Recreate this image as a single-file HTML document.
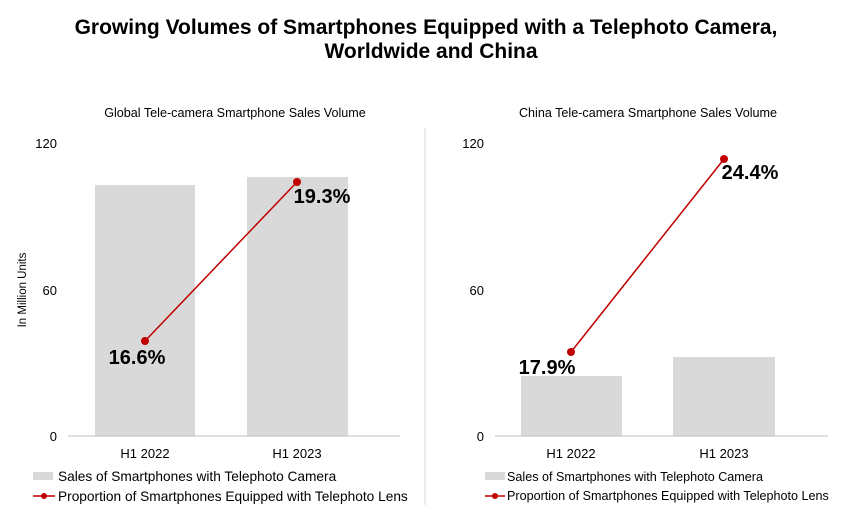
<!DOCTYPE html>
<html><head><meta charset="utf-8"><style>
body{margin:0;background:#fff;}
svg{display:block;font-family:"Liberation Sans",Arial,sans-serif;}
</style></head><body>
<svg width="863" height="521" viewBox="0 0 863 521">
<text x="426" y="34" text-anchor="middle" font-size="21" font-weight="bold" fill="#000">Growing Volumes of Smartphones Equipped with a Telephoto Camera,</text>
<text x="431" y="58" text-anchor="middle" font-size="21" font-weight="bold" fill="#000">Worldwide and China</text>
<line x1="425" y1="128" x2="425" y2="505" stroke="#d9d9d9" stroke-width="1"/>
<!-- Left chart -->
<text x="235" y="117" text-anchor="middle" font-size="12.6" fill="#000">Global Tele-camera Smartphone Sales Volume</text>
<text x="57" y="148" text-anchor="end" font-size="13">120</text>
<text x="57" y="295" text-anchor="end" font-size="13">60</text>
<text x="57" y="441" text-anchor="end" font-size="13">0</text>
<text transform="translate(26,290) rotate(-90)" text-anchor="middle" font-size="11.5">In Million Units</text>
<rect x="95" y="185" width="100" height="251" fill="#d9d9d9"/>
<rect x="247" y="177" width="101" height="259" fill="#d9d9d9"/>
<line x1="68" y1="436" x2="400" y2="436" stroke="#bfbfbf"/>
<text x="145" y="458" text-anchor="middle" font-size="13">H1 2022</text>
<text x="297" y="458" text-anchor="middle" font-size="13">H1 2023</text>
<line x1="145" y1="341" x2="297" y2="182" stroke="#c00000" stroke-width="1.5"/>
<circle cx="145" cy="341" r="4" fill="#c00000"/>
<circle cx="297" cy="182" r="4" fill="#c00000"/>
<text x="137" y="364" text-anchor="middle" font-size="20" font-weight="bold">16.6%</text>
<text x="322" y="203" text-anchor="middle" font-size="20" font-weight="bold">19.3%</text>
<rect x="33" y="472" width="20" height="8" fill="#d9d9d9"/>
<text x="58" y="481" font-size="13.7">Sales of Smartphones with Telephoto Camera</text>
<line x1="33" y1="496" x2="55" y2="496" stroke="#c00000" stroke-width="1.5"/>
<circle cx="44" cy="496" r="3" fill="#c00000"/>
<text x="58" y="501" font-size="13.7">Proportion of Smartphones Equipped with Telephoto Lens</text>
<!-- Right chart -->
<text x="648" y="117" text-anchor="middle" font-size="12.6">China Tele-camera Smartphone Sales Volume</text>
<text x="484" y="148" text-anchor="end" font-size="13">120</text>
<text x="484" y="295" text-anchor="end" font-size="13">60</text>
<text x="484" y="441" text-anchor="end" font-size="13">0</text>
<rect x="521" y="376" width="101" height="60" fill="#d9d9d9"/>
<rect x="673" y="357" width="102" height="79" fill="#d9d9d9"/>
<line x1="495" y1="436" x2="828" y2="436" stroke="#bfbfbf"/>
<text x="571" y="458" text-anchor="middle" font-size="13">H1 2022</text>
<text x="724" y="458" text-anchor="middle" font-size="13">H1 2023</text>
<line x1="571" y1="352" x2="724" y2="159" stroke="#c00000" stroke-width="1.5"/>
<circle cx="571" cy="352" r="4" fill="#c00000"/>
<circle cx="724" cy="159" r="4" fill="#c00000"/>
<text x="547" y="374" text-anchor="middle" font-size="20" font-weight="bold">17.9%</text>
<text x="750" y="179" text-anchor="middle" font-size="20" font-weight="bold">24.4%</text>
<rect x="485" y="472" width="20" height="8" fill="#d9d9d9"/>
<text x="507" y="481" font-size="12.6">Sales of Smartphones with Telephoto Camera</text>
<line x1="485" y1="496" x2="505" y2="496" stroke="#c00000" stroke-width="1.5"/>
<circle cx="495" cy="496" r="3" fill="#c00000"/>
<text x="507" y="500" font-size="12.6">Proportion of Smartphones Equipped with Telephoto Lens</text>
</svg>
</body></html>
